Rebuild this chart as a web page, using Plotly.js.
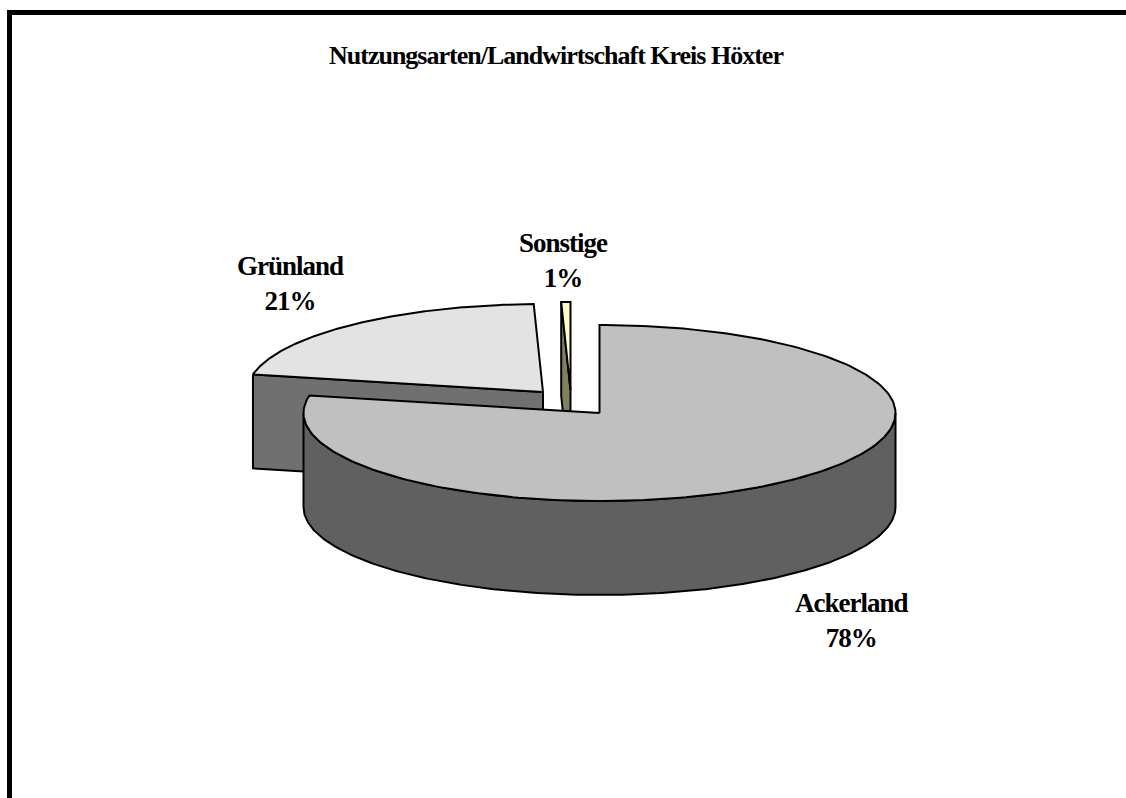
<!DOCTYPE html>
<html>
<head>
<meta charset="utf-8">
<script src="https://cdn.plot.ly/plotly-3.0.1.min.js"></script>
<style>
html,body{margin:0;padding:0;background:#fff;overflow:hidden}
.annotation-text, .annotation-text tspan{letter-spacing:-1px}
</style>
</head>
<body>
<div id="chart" style="width:1126px;height:798px"></div>
<script>
const categories = ["Ackerland", "Grünland", "Sonstige"];
const values = [78.2, 21.3, 0.5];
const percentLabels = ["78%", "21%", "1%"];
const chartTitle = "Nutzungsarten/Landwirtschaft Kreis Höxter";

const topColors = ["#C0C0C0", "#E3E3E3", "#FFFFC0"];
const wallColors = ["#606060", "#707070", "#808060"];
const centers = [[599.5, 413], [543, 392], [570.5, 390]];
const labelAnchors = [[851, 620], [290, 283], [563, 260]];
const RX = 296, RY = 88, DEPTH = 94, N = 240;

const total = values.reduce((a, b) => a + b, 0);
const pt = (c, deg, dz) => {
  const r = deg * Math.PI / 180;
  return [c[0] + RX * Math.sin(r), c[1] - RY * Math.cos(r) + (dz || 0)];
};
const arc = (c, a0, a1, dz) => {
  const out = [];
  for (let i = 0; i <= N; i++) out.push(pt(c, a0 + (a1 - a0) * i / N, dz));
  return out;
};
const poly = (points, fill) => ({
  type: "scatter", mode: "lines",
  x: points.map(p => p[0]), y: points.map(p => p[1]),
  fill: "toself", fillcolor: fill,
  line: {color: "#000", width: 2, shape: "linear"},
  hoverinfo: "skip", showlegend: false
});

let angle = 0;
const wedges = values.map((v, i) => {
  const start = angle; angle += v / total * 360;
  return {i, start, end: angle, c: centers[i]};
});

const traces = [];
// back to front: Grünland, Sonstige, Ackerland
[1, 2, 0].forEach(idx => {
  const w = wedges[idx];
  // radial cut wall on the wedge's starting edge when it faces the viewer
  if (w.i !== 0) {
    const e = pt(w.c, w.start);
    traces.push(poly([e, w.c, [w.c[0], w.c[1] + DEPTH], [e[0], e[1] + DEPTH], e], wallColors[w.i]));
  }
  // outer wall: the front half of the rim only
  const a0 = Math.max(w.start, 90), a1 = Math.min(w.end, 270);
  if (a1 > a0) {
    const top = arc(w.c, a0, a1, 0);
    const bottom = arc(w.c, a1, a0, DEPTH);
    traces.push(poly(top.concat(bottom, [top[0]]), wallColors[w.i]));
  }
  // top face
  const rim = arc(w.c, w.start, w.end, 0);
  traces.push(poly([w.c].concat(rim, [w.c]), topColors[w.i]));
});

const font = {family: '"Liberation Serif", "Times New Roman", serif', color: "#000"};
const annotations = categories.map((name, i) => ({
  x: labelAnchors[i][0], y: labelAnchors[i][1], xref: "x", yref: "y",
  text: "<b>" + name + "<br>" + percentLabels[i] + "</b>",
  showarrow: false, xanchor: "center", yanchor: "middle", align: "center",
  font: Object.assign({size: 27}, font)
}));
annotations.push({
  x: 556, y: 55, xref: "x", yref: "y",
  text: "<b>" + chartTitle + "</b>",
  showarrow: false, xanchor: "center", yanchor: "middle",
  font: Object.assign({size: 26}, font)
});

const layout = {
  width: 1126, height: 798,
  margin: {l: 0, r: 0, t: 0, b: 0},
  paper_bgcolor: "#fff", plot_bgcolor: "#fff",
  xaxis: {range: [0, 1126], visible: false, fixedrange: true},
  yaxis: {range: [798, 0], visible: false, fixedrange: true},
  showlegend: false,
  annotations,
  shapes: [
    {type: "line", xref: "x", yref: "y", x0: 7, y0: 12.5, x1: 1126, y1: 12.5,
     line: {color: "#000", width: 5}, layer: "above"},
    {type: "line", xref: "x", yref: "y", x0: 9.5, y0: 10, x1: 9.5, y1: 798,
     line: {color: "#000", width: 5}, layer: "above"}
  ]
};
Plotly.newPlot("chart", traces, layout, {displayModeBar: false, staticPlot: true});
</script>
</body>
</html>
